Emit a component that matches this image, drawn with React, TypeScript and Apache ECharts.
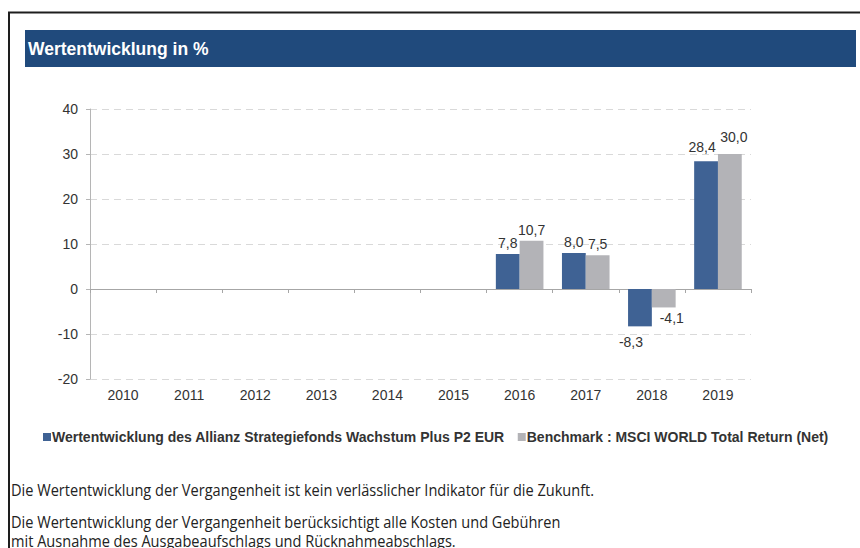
import React, { useEffect, useRef } from "react";
import * as echarts from "echarts";

const categories = ["2010", "2011", "2012", "2013", "2014", "2015", "2016", "2017", "2018", "2019"];
const fundValues: (number | null)[] = [null, null, null, null, null, null, 7.8, 8.0, -8.3, 28.4];
const benchmarkValues: (number | null)[] = [null, null, null, null, null, null, 10.7, 7.5, -4.1, 30.0];
const yMin = -20;
const yMax = 40;
const yInterval = 10;

const titleText = "Wertentwicklung in %";
const fundName = "Wertentwicklung des Allianz Strategiefonds Wachstum Plus P2 EUR";
const benchName = "Benchmark : MSCI WORLD Total Return (Net)";
const footnotes = [
  "Die Wertentwicklung der Vergangenheit ist kein verlässlicher Indikator für die Zukunft.",
  "Die Wertentwicklung der Vergangenheit berücksichtigt alle Kosten und Gebühren",
  "mit Ausnahme des Ausgabeaufschlags und Rücknahmeabschlags.",
];

const FUND_COLOR = "#3f6294";
const BENCH_COLOR = "#b3b3b7";
const FONT = "'Liberation Sans', Arial, sans-serif";

// label nudges (style only), keyed by category index, to avoid overlapping labels like the original
const fundLabelNudge: Record<number, number[]> = { 8: [-9, 5], 9: [-4, -3] };
const benchLabelNudge: Record<number, number[]> = { 8: [8, 0], 9: [4, -6] };

const fmt = (v: number) => v.toFixed(1).replace(".", ",");

function toData(values: (number | null)[], nudge: Record<number, number[]>) {
  return values.map((v, i) =>
    v == null
      ? "-"
      : {
          value: v,
          label: {
            position: v < 0 ? "bottom" : "top",
            offset: nudge[i] || [0, 0],
          },
        }
  );
}

export default function App() {
  const ref = useRef<HTMLDivElement>(null);
  useEffect(() => {
    if (!ref.current) return;
    const chart = echarts.init(ref.current, undefined, { renderer: "svg" });
    const labelCfg = {
      show: true,
      fontFamily: FONT,
      fontSize: 14,
      color: "#333",
      distance: 4,
      formatter: (p: any) => fmt(p.value),
    };
    chart.setOption({
      animation: false,
      backgroundColor: "#fff",
      textStyle: { fontFamily: FONT },
      grid: { left: 90, right: 109, top: 109, bottom: 169, containLabel: false },
      legend: {
        left: 43,
        top: 430,
        padding: 0,
        icon: "rect",
        itemWidth: 8,
        itemHeight: 8,
        itemGap: 13,
        selectedMode: false,
        textStyle: { fontFamily: FONT, fontSize: 14, fontWeight: "bold", color: "#333", padding: [0, 0, 0, -4] },
        data: [fundName, benchName],
      },
      xAxis: [
        {
          type: "category",
          data: categories,
          position: "bottom",
          axisLine: { show: false, onZero: false },
          axisTick: { show: false },
          axisLabel: { fontFamily: FONT, fontSize: 14, color: "#333", margin: 9 },
          splitLine: { show: false },
        },
        {
          type: "category",
          data: categories,
          position: "bottom",
          axisLine: { show: true, onZero: true, lineStyle: { color: "#a6a6a6", width: 1 } },
          axisTick: { show: true, length: 4, inside: false, lineStyle: { color: "#a6a6a6" } },
          axisLabel: { show: false },
          splitLine: { show: false },
        },
      ],
      yAxis: {
        type: "value",
        min: yMin,
        max: yMax,
        interval: yInterval,
        axisLine: { show: true, lineStyle: { color: "#b5b5b5", width: 1 } },
        axisTick: { show: true, length: 4, lineStyle: { color: "#b5b5b5" } },
        axisLabel: { fontFamily: FONT, fontSize: 14, color: "#333", margin: 12 },
        splitLine: { show: true, lineStyle: { color: "#d9d9d9", type: [7, 5], width: 1 } },
      },
      series: [
        {
          name: fundName,
          type: "bar",
          xAxisIndex: 0,
          data: toData(fundValues, fundLabelNudge),
          itemStyle: { color: FUND_COLOR },
          barGap: "0%",
          barCategoryGap: "28%",
          label: labelCfg,
        },
        {
          name: benchName,
          type: "bar",
          xAxisIndex: 0,
          data: toData(benchmarkValues, benchLabelNudge),
          itemStyle: { color: BENCH_COLOR },
          barGap: "0%",
          barCategoryGap: "28%",
          label: labelCfg,
        },
      ],
      graphic: [
        { type: "line", shape: { x1: 8, y1: 12.5, x2: 860, y2: 12.5 }, style: { stroke: "#1e1e1e", lineWidth: 2 } },
        { type: "line", shape: { x1: 9, y1: 12, x2: 9, y2: 548 }, style: { stroke: "#1e1e1e", lineWidth: 2 } },
        { type: "rect", shape: { x: 25, y: 30, width: 831, height: 37 }, style: { fill: "#204a7c" } },
        {
          type: "text",
          x: 28,
          y: 48.5,
          style: { text: titleText, fill: "#fff", font: `bold 17.5px ${FONT}`, verticalAlign: "middle" },
        },
        ...footnotes.map((t, i) => ({
          type: "text",
          x: 11,
          y: [490, 522, 541][i],
          scaleX: 0.94,
          style: { text: t, fill: "#222", font: "15.5px 'Open Sans', sans-serif", verticalAlign: "middle" },
        })),
      ],
    });
    return () => chart.dispose();
  }, []);
  return (
    <div
      ref={ref}
      style={{ position: "fixed", left: 0, top: 0, width: 860, height: 548, overflow: "hidden" }}
    />
  );
}
